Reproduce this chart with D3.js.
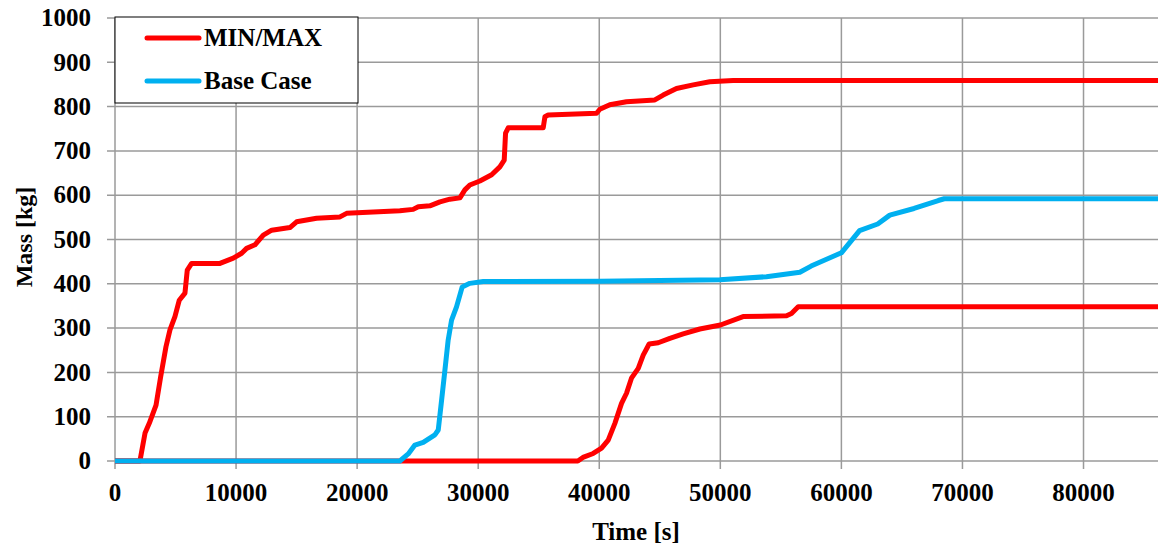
<!DOCTYPE html>
<html>
<head>
<meta charset="utf-8">
<script src="https://cdn.jsdelivr.net/npm/d3@7"></script>
<style>
  body { margin: 0; background: #fff; }
  text { font-family: "Liberation Serif", "Times New Roman", serif; font-weight: bold; }
</style>
</head>
<body>
<div id="my_chart"></div>
<script>
// data
var xTicks = [0, 10000, 20000, 30000, 40000, 50000, 60000, 70000, 80000];
var yTicks = [0, 100, 200, 300, 400, 500, 600, 700, 800, 900, 1000];

// MIN/MAX upper curve
var maxTime = [0, 2060, 2480, 2830, 3390, 3770, 4210, 4540, 4950, 5310, 5780, 5970, 6330, 8670, 9770, 10460, 10870, 11560, 12250, 12940, 14450, 15000, 16650, 18580, 19130, 23530, 24630, 25050, 26010, 26840, 27660, 28490, 28900, 29310, 30140, 31110, 31790, 32150, 32260, 32480, 35370, 35510, 35780, 39780, 40050, 40870, 42250, 44590, 45280, 46380, 47760, 49130, 51060, 86400];
var maxMass = [0, 0, 63, 85, 126, 190, 258, 296, 326, 363, 379, 431, 446, 446, 458, 469, 480, 488, 510, 521, 527, 540, 548, 551, 559, 565, 568, 574, 576, 585, 591, 594, 612, 623, 632, 646, 664, 679, 740, 752, 752, 777, 781, 785, 794, 804, 811, 815, 826, 841, 849, 856, 859, 859];

// MIN/MAX lower curve
var minTime = [0, 38230, 38650, 39500, 40190, 40740, 41290, 41840, 42250, 42660, 43220, 43630, 44120, 44870, 45830, 46930, 48310, 50010, 51880, 55470, 55880, 56430, 86400];
var minMass = [0, 0, 8, 17, 29, 47, 85, 130, 153, 187, 209, 239, 264, 267, 277, 287, 298, 307, 326, 328, 333, 348, 348];

// Base Case
var baseTime = [0, 23530, 24220, 24770, 25460, 26420, 26700, 26980, 27250, 27520, 27800, 28210, 28680, 29310, 30410, 40050, 49960, 53810, 56570, 57500, 60000, 61500, 63000, 64000, 66000, 68000, 68500, 86400];
var baseMass = [0, 0, 16, 36, 42, 59, 70, 138, 205, 273, 318, 348, 393, 401, 405, 406, 409, 416, 426, 440, 470, 520, 535, 555, 570, 588, 592, 592];

var series = [
  {name: "MIN/MAX", color: "#ff0000", t: maxTime, m: maxMass},
  {name: "MIN/MAX", color: "#ff0000", t: minTime, m: minMass},
  {name: "Base Case", color: "#00b0f0", t: baseTime, m: baseMass}
];

var margin = {top: 18, left: 115},
    width = 1046,
    height = 443;

var svg = d3.select("#my_chart")
  .append("svg")
    .attr("width", 1158)
    .attr("height", 545)
  .append("g")
    .attr("transform", "translate(" + margin.left + "," + margin.top + ")");

var x = d3.scaleLinear().domain([0, 86400]).range([0, width]);
var y = d3.scaleLinear().domain([0, 1000]).range([height, 0]);

// grid
svg.append("g").selectAll("line")
  .data(yTicks).enter().append("line")
    .attr("x1", -8).attr("x2", width)
    .attr("y1", function(d){ return y(d); }).attr("y2", function(d){ return y(d); })
    .attr("stroke", "#9a9a9a").attr("stroke-width", 1.5);
svg.append("g").selectAll("line")
  .data(xTicks).enter().append("line")
    .attr("y1", 0).attr("y2", height + 8)
    .attr("x1", function(d){ return x(d); }).attr("x2", function(d){ return x(d); })
    .attr("stroke", "#9a9a9a").attr("stroke-width", 1.5);

// tick labels
svg.append("g").selectAll("text")
  .data(yTicks).enter().append("text")
    .attr("x", -24).attr("y", function(d){ return y(d); })
    .attr("dy", "0.33em")
    .attr("text-anchor", "end")
    .style("font-size", "25px")
    .text(function(d){ return d; });
svg.append("g").selectAll("text")
  .data(xTicks).enter().append("text")
    .attr("x", function(d){ return x(d); }).attr("y", height + 40)
    .attr("text-anchor", "middle")
    .style("font-size", "25px")
    .text(function(d){ return d; });

// axis titles
svg.append("text")
  .attr("x", 636 - margin.left).attr("y", 540 - margin.top)
  .attr("text-anchor", "middle")
  .style("font-size", "25px")
  .text("Time [s]");
svg.append("text")
  .attr("transform", "translate(" + (32 - margin.left) + "," + (237 - margin.top) + ")rotate(-90)")
  .attr("text-anchor", "middle")
  .style("font-size", "24px")
  .text("Mass [kg]");

// lines
var line = d3.line()
  .x(function(d){ return x(d[0]); })
  .y(function(d){ return y(d[1]); });

svg.selectAll(".series")
  .data(series).enter().append("path")
    .attr("d", function(s){ return line(d3.zip(s.t, s.m)); })
    .attr("fill", "none")
    .attr("stroke", function(s){ return s.color; })
    .attr("stroke-width", 5)
    .attr("stroke-linejoin", "round");

// legend
var legend = svg.append("g");
legend.append("rect")
  .attr("x", 0).attr("y", -1).attr("width", 243).attr("height", 86)
  .attr("fill", "#fff").attr("stroke", "#000").attr("stroke-width", 1);
var items = [series[0], series[2]];
items.forEach(function(s, i) {
  var ly = 20 + i * 43;
  legend.append("line")
    .attr("x1", 32).attr("x2", 84).attr("y1", ly).attr("y2", ly)
    .attr("stroke", s.color).attr("stroke-width", 5).attr("stroke-linecap", "round");
  legend.append("text")
    .attr("x", 89).attr("y", ly).attr("dy", "0.33em")
    .style("font-size", "25px")
    .text(s.name);
});
</script>
</body>
</html>
